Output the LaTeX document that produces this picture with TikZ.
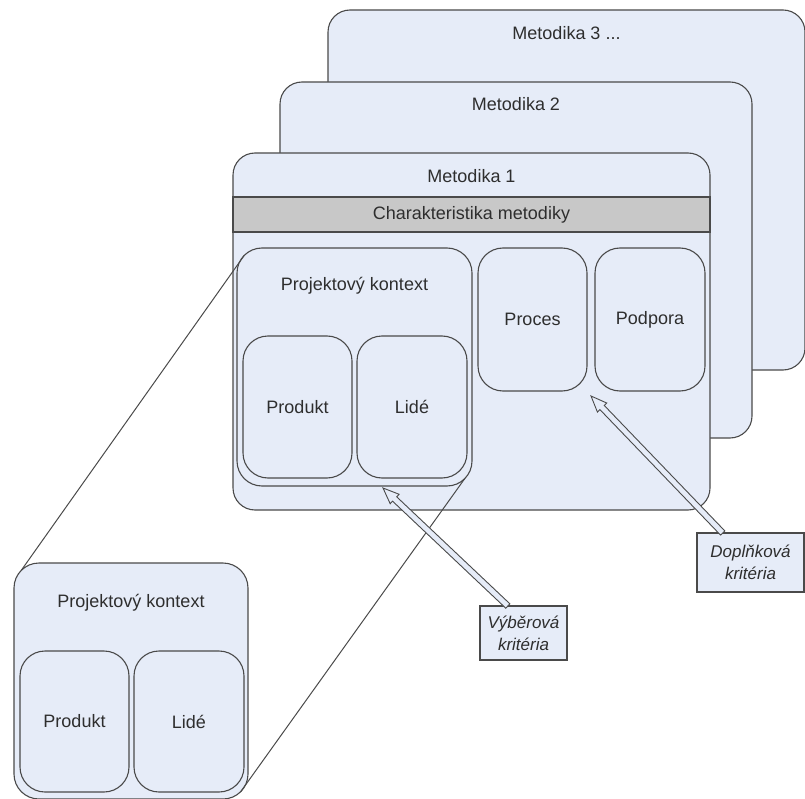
\documentclass[tikz,border=0pt]{standalone}
\usepackage{fontspec}
\setmainfont{Liberation Sans}
\usetikzlibrary{calc}

\definecolor{boxfill}{HTML}{E6ECF8}
\definecolor{bandgray}{HTML}{C8C8C8}
\definecolor{edge}{HTML}{4A4A4A}
\definecolor{ink}{HTML}{2E2E2E}

\tikzset{
  base/.style={draw=edge, line width=1.1pt, fill=boxfill, anchor=north west,
               inner sep=0pt, outer sep=0pt, text=ink,
               font=\fontsize{18}{21}\selectfont},
  metbox/.style={base, rounded corners=22pt},
  roundbox/.style={base, rounded corners=25pt},
  bandbox/.style={base, fill=bandgray},
  title/.style={font=\fontsize{18}{21}\selectfont, text=ink, inner sep=0pt},
  notebox/.style={base, font=\fontsize{17}{22}\selectfont\itshape, align=center},
  zoomline/.style={draw=edge, line width=1pt},
  hollow/.style={draw=edge, line width=0.9pt, fill=boxfill, line join=miter}
}

% open double-shaft arrow from #1 (tail) to #2 (tip)
\newcommand\hollowarrow[2]{%
  \coordinate (ha) at ($(#2)!16pt!(#1)$);
  \coordinate (hl) at ($(ha)!6.5pt!90:(#1)$);
  \coordinate (hr) at ($(ha)!6.5pt!-90:(#1)$);
  \coordinate (sl) at ($(ha)!3pt!90:(#1)$);
  \coordinate (sr) at ($(ha)!3pt!-90:(#1)$);
  \coordinate (el) at ($(#1)!3pt!-90:(ha)$);
  \coordinate (er) at ($(#1)!3pt!90:(ha)$);
  \draw[hollow] (#2) -- (hl) -- (sl) -- (el) -- (er) -- (sr) -- (hr) -- cycle;
}

\begin{document}
\begin{tikzpicture}[x=1pt,y=-1pt]
\useasboundingbox (0,0) rectangle (805,799);

% stacked methodology sheets
\node[metbox, minimum width=477pt, minimum height=360pt] (m3) at (328,10) {};
\node[title] at ([yshift=-23pt]m3.north) {Metodika 3 ...};
\node[metbox, minimum width=472pt, minimum height=356pt] (m2) at (280,82) {};
\node[title] at ([yshift=-22pt]m2.north) {Metodika 2};
\node[metbox, minimum width=477pt, minimum height=357pt] (m1) at (233,153) {};
\node[title] at ([yshift=-23pt]m1.north) {Metodika 1};
\node[bandbox, minimum width=477pt, minimum height=35pt] (band) at (233,197) {Charakteristika metodiky};

% project context group
\node[roundbox, minimum width=235pt, minimum height=238pt] (pk) at (237,248) {};
\node[title] at ([yshift=-38pt]pk.north) {Projektový kontext};
\node[roundbox, minimum width=109pt, minimum height=142pt] (prod) at (243,336) {Produkt};
\node[roundbox, minimum width=110pt, minimum height=142pt] (lide) at (357,336) {Lidé};

\node[roundbox, minimum width=109pt, minimum height=143pt] (proc) at (478,248) {Proces};
\node[roundbox, minimum width=110pt, minimum height=143pt] (podp) at (595,248) {Podpora};

% enlarged copy of the project context
\node[roundbox, minimum width=234pt, minimum height=236pt] (pkz) at (14,563) {};
\node[title] at ([yshift=-40pt]pkz.north) {Projektový kontext};
\node[roundbox, minimum width=109pt, minimum height=141pt] (prodz) at (20,651) {Produkt};
\node[roundbox, minimum width=110pt, minimum height=141pt] (lidez) at (134,651) {Lidé};

% lines linking the group with its copy
\draw[zoomline] ([xshift=7.3pt,yshift=-7.3pt]pk.north west) -- ([xshift=7.3pt,yshift=-7.3pt]pkz.north west);
\draw[zoomline] ([xshift=-7.3pt,yshift=7.3pt]pk.south east) -- ([xshift=-7.3pt,yshift=7.3pt]pkz.south east);

% criteria notes
\node[notebox, minimum width=87pt, minimum height=54pt] (vk) at (480,606) {Výběrová\\kritéria};
\node[notebox, minimum width=107pt, minimum height=59pt] (dk) at (697,533) {Doplňková\\kritéria};

\coordinate (vktail) at ($(vk.north west)!0.32!(vk.north east)$);
\coordinate (vktip) at ([xshift=28.5pt,yshift=-2pt]pk.south);
\hollowarrow{vktail}{vktip}

\coordinate (dktail) at ($(dk.north west)!0.24!(dk.north east)$);
\coordinate (dktip) at ([xshift=-4pt,yshift=-5pt]podp.south west);
\hollowarrow{dktail}{dktip}
\end{tikzpicture}
\end{document}
